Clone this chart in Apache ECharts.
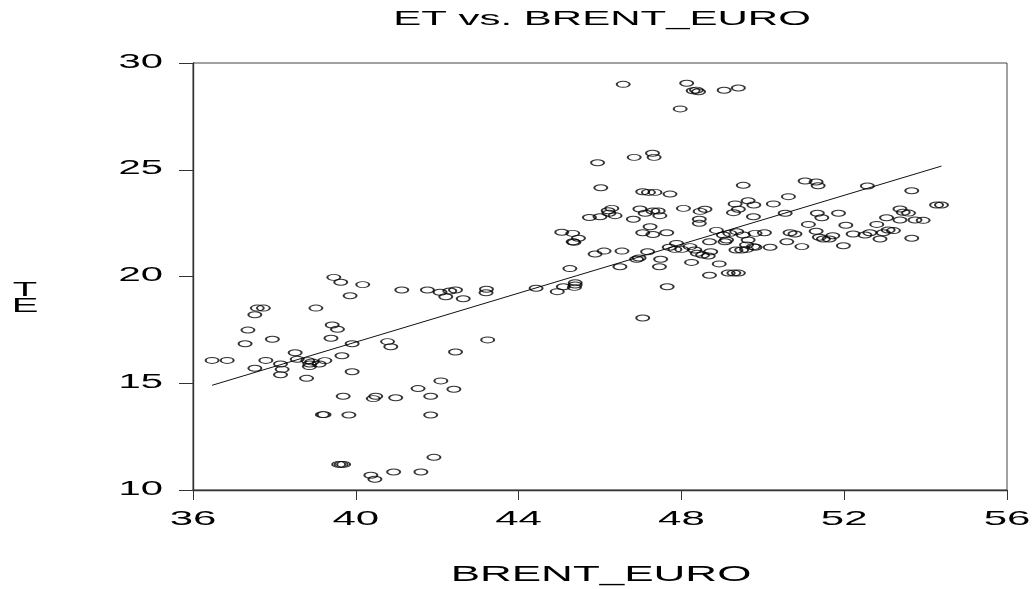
<!DOCTYPE html>
<html>
<head>
<meta charset="utf-8">
<script src="https://cdn.jsdelivr.net/npm/echarts@6/dist/echarts.min.js"></script>
<style>
  html, body { margin: 0; padding: 0; background: #fff; }
  #chart { width: 1033px; height: 589px; }
</style>
</head>
<body>
<div id="chart"></div>
<script>
// Monthly observations: Brent price in euro (x) against ET (y)
const brentEuro = [
  39.46, 39.63, 40.17, 39.86, 41.13, 41.76, 42.07, 42.21, 42.31, 42.45, 42.64,
  37.58, 37.73, 37.52, 39.02, 37.35, 37.95, 37.28, 39.42, 39.55, 39.39, 39.91,
  40.78, 40.86, 42.45, 36.47, 36.84, 37.79, 38.51, 38.56, 37.52, 38.15, 38.19,
  38.15, 38.82, 38.92, 38.87, 38.86, 39.10, 39.24, 39.66, 38.79, 39.91, 39.69,
  40.49, 40.43, 40.98, 41.53, 41.84, 42.09, 42.41, 39.18, 39.22, 39.83, 41.84,
  39.58, 39.64, 39.70, 41.92, 40.37, 40.47, 40.93, 41.60,
  43.21, 43.20, 43.24, 44.43, 44.95, 45.10, 45.39, 45.39, 45.37, 45.26, 45.88,
  46.10, 46.54, 46.49, 46.96, 46.90, 47.17, 47.05, 47.49, 47.46, 47.65, 47.70,
  47.84, 48.01, 47.88, 48.25, 48.21, 48.33, 48.39, 48.52, 48.66, 48.72, 48.69,
  48.93, 49.15, 49.29, 49.40, 49.07, 48.69, 49.34, 49.48, 49.60, 49.81, 49.60,
  45.34,
  46.57, 48.13, 48.29, 48.37, 48.42, 49.05, 49.40, 47.97, 45.94, 46.84, 47.29,
  47.33, 46.02, 49.52, 47.05, 47.19, 47.35, 47.72, 46.29, 46.20, 46.22, 45.74,
  46.00, 46.37, 46.98, 47.11, 47.30, 47.43, 47.47, 46.82, 48.05, 48.46, 48.58,
  48.44, 48.44, 49.32, 49.28, 49.40, 49.64, 49.78, 49.77, 45.06, 45.33, 45.47,
  45.36, 47.05, 47.23, 47.30, 47.64, 48.86, 49.03, 49.11, 49.19, 49.36, 49.52,
  49.64, 49.81, 49.77,
  51.04, 51.31, 51.36, 50.63, 52.57, 53.66, 54.27, 54.39, 50.26, 50.55, 51.34,
  51.45, 51.86, 51.12, 52.04, 52.80, 53.04, 53.37, 53.45, 53.58, 53.37, 53.74,
  53.94, 50.04, 50.67, 50.79, 51.31, 51.39, 51.49, 51.63, 51.72, 52.22, 52.51,
  52.63, 52.96, 53.08, 53.21, 52.88, 53.66, 50.59, 50.96, 51.98, 50.18
];
const et = [
  19.96, 19.73, 19.62, 19.10, 19.37, 19.37, 19.26, 19.05, 19.32, 19.37, 18.96,
  18.52, 18.52, 18.21, 18.52, 17.49, 17.06, 16.85, 17.73, 17.53, 17.11, 16.85,
  16.95, 16.71, 16.46, 16.07, 16.07, 16.07, 16.43, 16.12, 15.70, 15.90, 15.65,
  15.40, 16.06, 16.00, 15.90, 15.78, 15.90, 16.06, 16.29, 15.23, 15.54, 14.39,
  14.39, 14.28, 14.32, 14.75, 14.39, 15.11, 14.72, 13.53, 13.53, 13.51, 13.51,
  11.20, 11.20, 11.20, 11.53, 10.69, 10.50, 10.84, 10.84,
  19.40, 19.24, 17.03, 19.45, 19.29, 19.52, 19.71, 19.60, 19.49, 20.37, 21.05,
  21.19, 21.19, 20.46, 20.87, 20.81, 21.16, 18.06, 20.81, 20.46, 19.52, 21.37,
  21.27, 21.27, 21.55, 20.66, 21.40, 21.24, 21.09, 21.01, 20.96, 21.16, 20.06,
  20.59, 20.16, 20.16, 20.16, 21.63, 21.63, 21.24, 21.24, 21.27, 21.37, 21.48,
  21.63,
  29.00, 29.05, 28.70, 28.73, 28.65, 28.72, 28.83, 27.85, 25.33, 25.58, 25.77,
  25.58, 24.16, 24.27, 23.97, 23.94, 23.94, 23.86, 23.19, 23.08, 22.96, 22.76,
  22.80, 22.85, 23.16, 22.96, 23.07, 23.07, 22.85, 22.68, 23.19, 23.05, 23.15,
  22.68, 22.49, 23.40, 22.99, 23.15, 23.55, 23.35, 22.80, 22.07, 22.02, 21.79,
  21.60, 22.05, 22.33, 21.97, 22.05, 22.16, 21.94, 21.71, 22.02, 22.10, 21.94,
  21.71, 22.02, 21.40,
  24.47, 24.43, 24.25, 23.74, 24.24, 24.02, 23.35, 23.35, 23.40, 22.96, 22.96,
  22.75, 22.96, 22.44, 22.40, 22.44, 22.75, 23.16, 23.01, 22.97, 22.65, 22.65,
  22.63, 22.05, 22.05, 21.99, 22.12, 21.84, 21.76, 21.76, 21.91, 21.99, 21.94,
  22.05, 22.05, 22.18, 22.15, 21.76, 21.79, 21.63, 21.40, 21.44, 21.37
];

const xTicks = [36, 40, 44, 48, 52, 56];
const yTicks = [10, 15, 20, 25, 30];
const titleText = 'ET vs. BRENT_EURO';
const xName = 'BRENT_EURO';
const yName = 'ET';

// Least-squares regression line of ET on BRENT_EURO
const n = brentEuro.length;
const mx = brentEuro.reduce((s, v) => s + v, 0) / n;
const my = et.reduce((s, v) => s + v, 0) / n;
let sxy = 0, sxx = 0;
for (let i = 0; i < n; i++) {
  sxy += (brentEuro[i] - mx) * (et[i] - my);
  sxx += (brentEuro[i] - mx) * (brentEuro[i] - mx);
}
const slope = sxy / sxx;
const intercept = my - slope * mx;
const xLo = Math.min(...brentEuro), xHi = Math.max(...brentEuro);
const fitLine = [[xLo, intercept + slope * xLo], [xHi, intercept + slope * xHi]];

const FONT = '"Liberation Sans", Arial, Helvetica, sans-serif';
const STRETCH = 2; // text in this graph is drawn twice as wide as tall

const chart = echarts.init(document.getElementById('chart'), null, { renderer: 'canvas' });

const axisCommon = {
  type: 'value',
  axisLine: { show: true, onZero: false, lineStyle: { color: '#333', width: 1.4 } },
  axisLabel: { show: false },
  splitLine: { show: false }
};

chart.setOption({
  animation: false,
  backgroundColor: '#fff',
  grid: {
    left: 193, right: 26, top: 63, bottom: 99,
    show: true, borderColor: '#444', borderWidth: 1, backgroundColor: 'transparent'
  },
  xAxis: Object.assign({}, axisCommon, {
    min: xTicks[0], max: xTicks[xTicks.length - 1], interval: 4,
    axisTick: { show: true, inside: false, length: 10, lineStyle: { color: '#333', width: 1 } }
  }),
  yAxis: Object.assign({}, axisCommon, {
    min: yTicks[0], max: yTicks[yTicks.length - 1], interval: 5,
    axisTick: { show: true, inside: false, length: 14, lineStyle: { color: '#333', width: 1 } }
  }),
  series: [
    {
      type: 'line',
      data: fitLine,
      showSymbol: false,
      symbol: 'none',
      silent: true,
      z: 2,
      lineStyle: { color: '#111', width: 1 }
    },
    {
      type: 'scatter',
      data: brentEuro.map((x, i) => [x, et[i]]),
      symbol: 'circle',
      symbolSize: [13, 6],
      silent: true,
      z: 3,
      itemStyle: { color: 'rgba(0,0,0,0)', borderColor: '#000', borderWidth: 1.4 }
    }
  ]
});

// Stretched text: tick labels, title and axis names
function stretchedText(text, x, y, size, align, extra) {
  return Object.assign({
    type: 'text', x: x, y: y, scaleX: STRETCH, scaleY: 1, silent: true,
    style: {
      text: text, fontFamily: FONT, fontSize: size, fill: '#000',
      align: align, verticalAlign: 'middle'
    }
  }, extra || {});
}

const graphics = [];
yTicks.forEach(v => {
  const p = chart.convertToPixel({ gridIndex: 0 }, [xTicks[0], v]);
  graphics.push(stretchedText(String(v), p[0] - 30, p[1] - 1, 20, 'right'));
});
xTicks.forEach(v => {
  const p = chart.convertToPixel({ gridIndex: 0 }, [v, yTicks[0]]);
  graphics.push(stretchedText(String(v), p[0], p[1] + 29, 21, 'center'));
});
graphics.push(stretchedText(titleText, 602, 19, 21, 'center'));
graphics.push(stretchedText(xName, 601, 575, 22, 'center'));
const yNameText = stretchedText(yName.split('').reverse().join('\n'), 25, 298, 20, 'center');
yNameText.style.lineHeight = 16;
graphics.push(yNameText);

chart.setOption({ graphic: { elements: graphics } });
</script>
</body>
</html>
